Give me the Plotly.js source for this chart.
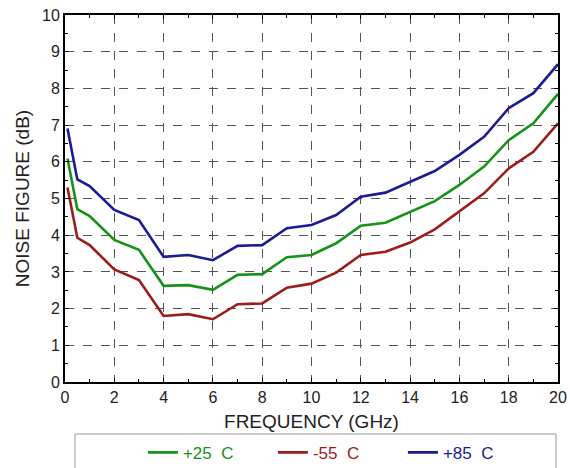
<!DOCTYPE html>
<html>
<head>
<meta charset="utf-8">
<script src="https://cdn.plot.ly/plotly-3.0.1.min.js"></script>
<style>
html,body{margin:0;padding:0;background:#fff;}
#chart{width:570px;height:468px;}
</style>
</head>
<body>
<div id="chart"></div>
<script>
var freq = [0.1, 0.5, 1, 2, 3, 4, 5, 6, 7, 8, 9, 10, 11, 12, 13, 14, 15, 16, 17, 18, 19, 20];
var nf25 = [6.09, 4.71, 4.52, 3.87, 3.60, 2.62, 2.64, 2.51, 2.92, 2.94, 3.40, 3.46, 3.78, 4.26, 4.34, 4.64, 4.93, 5.37, 5.87, 6.59, 7.05, 7.85];
var nfm55 = [5.30, 3.93, 3.73, 3.07, 2.78, 1.80, 1.85, 1.71, 2.12, 2.14, 2.57, 2.68, 2.98, 3.46, 3.55, 3.80, 4.16, 4.64, 5.14, 5.82, 6.27, 7.05];
var nf85 = [6.91, 5.52, 5.34, 4.69, 4.41, 3.41, 3.46, 3.32, 3.71, 3.73, 4.19, 4.28, 4.55, 5.05, 5.16, 5.46, 5.75, 6.19, 6.68, 7.46, 7.87, 8.66];
var xTicks = [0, 2, 4, 6, 8, 10, 12, 14, 16, 18, 20];
var yTicks = [0, 1, 2, 3, 4, 5, 6, 7, 8, 9, 10];

var cGreen = '#179117', cRed = '#9c1c1c', cBlue = '#1b1b94';
var FONT = 'Liberation Sans, Arial, sans-serif';

function tr(y, name, color) {
  return {
    x: freq, y: y, type: 'scatter', mode: 'lines',
    name: '<span style="color:' + color + '">' + name + '</span>',
    line: {color: color, width: 2.6}
  };
}

var data = [
  tr(nf25, '+25  C', cGreen),
  tr(nfm55, '-55  C', cRed),
  tr(nf85, '+85  C', cBlue)
];

var axisCommon = {
  showline: true, linecolor: '#000', linewidth: 2, mirror: 'allticks',
  ticks: 'inside', ticklen: 4, tickcolor: '#000', tickwidth: 1,
  showgrid: true, gridcolor: '#555', griddash: 'dash', gridwidth: 1,
  zeroline: false,
  tickfont: {family: FONT, size: 16, color: '#222'}
};

var layout = {
  width: 570, height: 468,
  margin: {l: 65, r: 12, t: 15, b: 86, autoexpand: false},
  paper_bgcolor: '#fff', plot_bgcolor: '#fff',
  showlegend: true,
  legend: {
    orientation: 'h', x: 0.158, xanchor: 'left', y: -0.193, yanchor: 'middle',
    entrywidth: 85, entrywidthmode: 'pixels',
    font: {family: FONT, size: 17},
    bgcolor: 'rgba(0,0,0,0)', borderwidth: 0
  },
  xaxis: Object.assign({}, axisCommon, {
    range: [0, 20], tickvals: xTicks, ticktext: xTicks.map(String),
    minor: {ticks: 'inside', ticklen: 3, tickcolor: '#000', dtick: 1, tick0: 0, showgrid: false},
    title: {text: 'FREQUENCY (GHz)', standoff: 9, font: {family: FONT, size: 19, color: '#222'}}
  }),
  yaxis: Object.assign({}, axisCommon, {
    range: [0, 10], tickvals: yTicks, ticktext: yTicks.map(String),
    minor: {ticks: 'inside', ticklen: 3, tickcolor: '#000', dtick: 0.5, tick0: 0, showgrid: false},
    title: {text: 'NOISE FIGURE (dB)', standoff: 7, font: {family: FONT, size: 19, color: '#222'}}
  }),
  shapes: [{
    type: 'rect', xref: 'paper', yref: 'paper',
    x0: 0.0203, x1: 0.996, y0: -0.26, y1: -0.1417,
    line: {color: '#999', width: 1}, fillcolor: 'rgba(0,0,0,0)', layer: 'below'
  }]
};

Plotly.newPlot('chart', data, layout, {displayModeBar: false, staticPlot: true});
</script>
</body>
</html>
